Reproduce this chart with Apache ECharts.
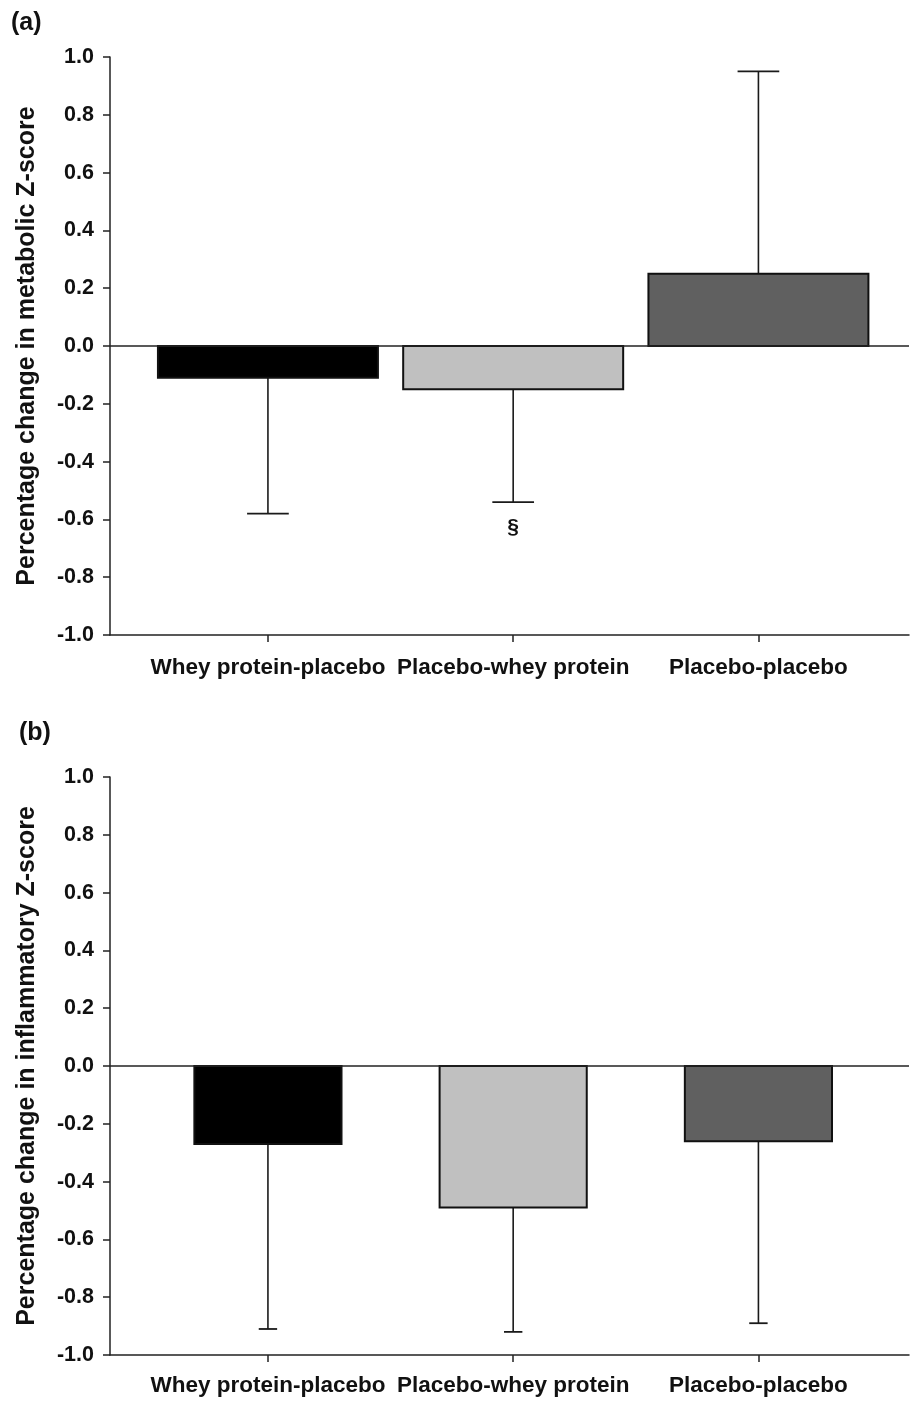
<!DOCTYPE html>
<html>
<head>
<meta charset="utf-8">
<script src="https://cdn.jsdelivr.net/npm/echarts@6/dist/echarts.min.js"></script>
<style>
html,body{margin:0;padding:0;background:#fff;}
#chart{width:910px;height:1401px;}
</style>
</head>
<body>
<div id="chart"></div>
<script>
// ---- data ----
const categories = ['Whey protein-placebo', 'Placebo-whey protein', 'Placebo-placebo'];
const yTicks = [-1.0, -0.8, -0.6, -0.4, -0.2, 0.0, 0.2, 0.4, 0.6, 0.8, 1.0];
// panel (a): metabolic Z-score
const metabolicMean = [-0.11, -0.15, 0.25];
const metabolicErrEnd = [-0.58, -0.54, 0.95];
const metabolicNote = ['', '§', ''];
// panel (b): inflammatory Z-score
const inflammatoryMean = [-0.27, -0.49, -0.26];
const inflammatoryErrEnd = [-0.91, -0.92, -0.89];
const inflammatoryNote = ['', '', ''];

const barColors = ['#000000', '#c0c0c0', '#606060'];
const FONT = '"Liberation Sans", Arial, sans-serif';

function makeSeries(gridIdx, means, errEnds, notes, barW, capW) {
  const data = means.map((m, i) => [i + 1, m, errEnds[i], i]);
  return {
    type: 'custom',
    xAxisIndex: gridIdx, yAxisIndex: gridIdx,
    data: data,
    encode: { x: 0, y: [1, 2] },
    renderItem: function (params, api) {
      const x = api.value(0), m = api.value(1), e = api.value(2), idx = api.value(3);
      const p0 = api.coord([x, 0]);
      const pm = api.coord([x, m]);
      const pe = api.coord([x, e]);
      const w = api.size([barW, 0])[0];
      const cw = api.size([capW, 0])[0];
      const top = Math.min(p0[1], pm[1]);
      const h = Math.abs(p0[1] - pm[1]);
      const children = [
        { type: 'line', shape: { x1: pm[0], y1: pm[1], x2: pe[0], y2: pe[1] },
          style: { stroke: '#1a1a1a', lineWidth: 1.6 } },
        { type: 'line', shape: { x1: pe[0] - cw / 2, y1: pe[1], x2: pe[0] + cw / 2, y2: pe[1] },
          style: { stroke: '#1a1a1a', lineWidth: 1.8 } },
        { type: 'rect', shape: { x: p0[0] - w / 2, y: top, width: w, height: h },
          style: { fill: barColors[idx], stroke: '#111', lineWidth: 2 } }
      ];
      if (notes[idx]) {
        children.push({ type: 'text', style: { text: notes[idx], x: pe[0], y: pe[1] + 15,
          align: 'center', verticalAlign: 'top', font: 'bold 21px ' + FONT, fill: '#111' } });
      }
      return { type: 'group', children: children };
    },
    markLine: {
      silent: true, symbol: 'none', label: { show: false },
      lineStyle: { color: '#222', width: 1.5, type: 'solid' },
      data: [{ yAxis: 0 }], animation: false
    },
    z: 3
  };
}

function makeX(gridIdx, margin) {
  return {
    type: 'value', gridIndex: gridIdx, min: 0.356, max: 3.614,
    axisLine: { show: true, onZero: false, lineStyle: { color: '#222', width: 1.5 } },
    axisTick: { show: true, inside: false, length: 7, customValues: [1, 2, 3], lineStyle: { color: '#222', width: 1.5 } },
    axisLabel: { show: true, customValues: [1, 2, 3], margin: margin,
      formatter: v => categories[Math.round(v) - 1] || '',
      fontFamily: FONT, fontWeight: 'bold', fontSize: 22.5, color: '#111' },
    splitLine: { show: false }
  };
}

function makeY(gridIdx, name) {
  return {
    type: 'value', gridIndex: gridIdx, min: yTicks[0], max: yTicks[yTicks.length - 1], interval: 0.2,
    name: name, nameLocation: 'middle', nameRotate: 90, nameGap: 70,
    nameTextStyle: { fontFamily: FONT, fontWeight: 'bold', fontSize: 25, color: '#111' },
    axisLine: { show: true, onZero: false, lineStyle: { color: '#222', width: 1.5 } },
    axisTick: { show: true, inside: false, length: 7, lineStyle: { color: '#222', width: 1.5 } },
    axisLabel: { margin: 16, formatter: v => v.toFixed(1),
      fontFamily: FONT, fontWeight: 'bold', fontSize: 21.5, color: '#111' },
    splitLine: { show: false }
  };
}

const chart = echarts.init(document.getElementById('chart'), null, { renderer: 'canvas' });
chart.setOption({
  animation: false,
  backgroundColor: '#ffffff',
  title: [
    { text: '(a)', left: 6, top: 6, textStyle: { fontFamily: FONT, fontWeight: 'bold', fontSize: 25, color: '#111' } },
    { text: '(b)', left: 14, top: 716, textStyle: { fontFamily: FONT, fontWeight: 'bold', fontSize: 25, color: '#111' } }
  ],
  grid: [
    { left: 110, top: 57, width: 799, height: 578, containLabel: false },
    { left: 110, top: 777, width: 799, height: 578, containLabel: false }
  ],
  xAxis: [makeX(0, 21), makeX(1, 19)],
  yAxis: [makeY(0, 'Percentage change in metabolic Z-score'),
          makeY(1, 'Percentage change in inflammatory Z-score')],
  series: [
    makeSeries(0, metabolicMean, metabolicErrEnd, metabolicNote, 0.897, 0.17),
    makeSeries(1, inflammatoryMean, inflammatoryErrEnd, inflammatoryNote, 0.6, 0.075)
  ]
});
</script>
</body>
</html>
